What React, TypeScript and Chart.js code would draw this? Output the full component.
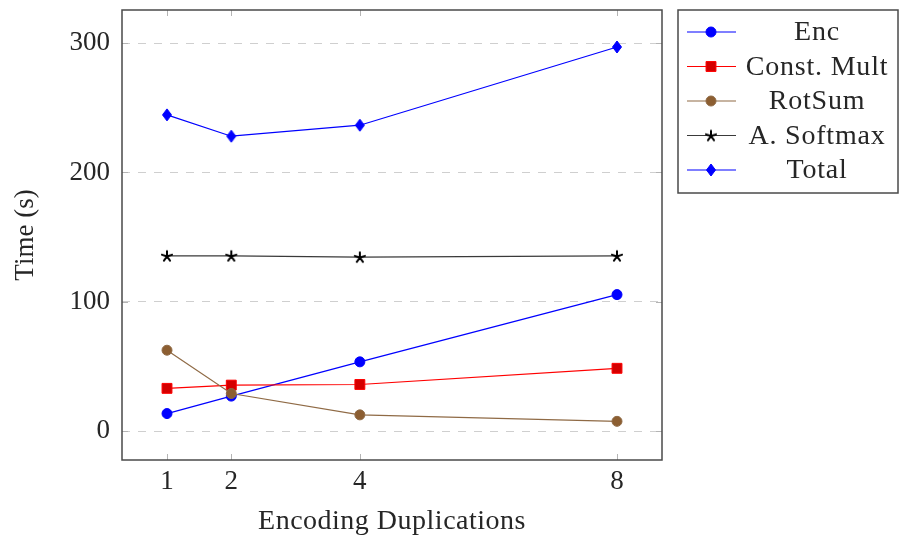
import { useEffect, useRef } from "react";
import { Chart, registerables } from "chart.js";
import { drawPoint } from "chart.js/helpers";

Chart.register(...registerables);

const duplications = [1, 2, 4, 8];
const encTimes = [13.5, 27, 53.5, 105.5];
const constMultTimes = [33, 35.5, 36, 48.5];
const rotSumTimes = [62.5, 29, 12.5, 7.5];
const softmaxTimes = [135.5, 135.5, 134.5, 135.5];
const totalTimes = [244.5, 228, 236.5, 297];
const yTickValues = [0, 100, 200, 300];
const seriesNames = ["Enc", "Const. Mult", "RotSum", "A. Softmax", "Total"];
const xTitle = "Encoding Duplications";
const yTitle = "Time (s)";

const FONT = "'Liberation Serif', 'Times New Roman', serif";
const FONT_SIZE = 27;
const TEXT = "#262626";

function makeStar(): HTMLCanvasElement {
  const c = document.createElement("canvas");
  c.width = 14;
  c.height = 14;
  const g = c.getContext("2d")!;
  g.strokeStyle = "#000";
  g.lineWidth = 2;
  g.lineCap = "round";
  g.beginPath();
  for (let k = 0; k < 5; k++) {
    const a = -Math.PI / 2 + (k * 2 * Math.PI) / 5;
    g.moveTo(7, 7.5);
    g.lineTo(7 + 5.3 * Math.cos(a), 7.5 + 5.3 * Math.sin(a));
  }
  g.stroke();
  return c;
}

function makeDiamond(): HTMLCanvasElement {
  const c = document.createElement("canvas");
  c.width = 12;
  c.height = 14;
  const g = c.getContext("2d")!;
  g.fillStyle = "#0000ff";
  g.strokeStyle = "#0000ff";
  g.lineWidth = 1;
  g.beginPath();
  g.moveTo(6, 1);
  g.lineTo(10.5, 7);
  g.lineTo(6, 13);
  g.lineTo(1.5, 7);
  g.closePath();
  g.fill();
  g.stroke();
  return c;
}

type Style = {
  line: string;
  fill: string;
  pointStyle: any;
  radius: number;
};

export default function App() {
  const canvasRef = useRef<HTMLCanvasElement | null>(null);

  useEffect(() => {
    document.body.style.margin = "0";
    const canvas = canvasRef.current;
    if (!canvas) return;

    const styles: Style[] = [
      { line: "#0000ff", fill: "#0000ff", pointStyle: "circle", radius: 5 },
      { line: "#ff0000", fill: "#d40000", pointStyle: "rect", radius: 7 },
      { line: "#8f6a45", fill: "#8c5e31", pointStyle: "circle", radius: 5 },
      { line: "#3a3a3a", fill: "#000000", pointStyle: makeStar(), radius: 5 },
      { line: "#0000ff", fill: "#0000ff", pointStyle: makeDiamond(), radius: 5 },
    ];
    const seriesValues = [encTimes, constMultTimes, rotSumTimes, softmaxTimes, totalTimes];

    const framePlugin = {
      id: "frameAndLegend",
      afterDraw(chart: any) {
        const { ctx, chartArea } = chart;
        const xs = chart.scales.x;
        const ys = chart.scales.y;
        ctx.save();
        ctx.strokeStyle = "#b4b4b4";
        ctx.lineWidth = 1;
        ctx.setLineDash([]);
        for (const v of duplications) {
          const px = Math.round(xs.getPixelForValue(v)) + 0.5;
          ctx.beginPath();
          ctx.moveTo(px, chartArea.bottom);
          ctx.lineTo(px, chartArea.bottom - 6);
          ctx.moveTo(px, chartArea.top);
          ctx.lineTo(px, chartArea.top + 6);
          ctx.stroke();
        }
        for (const v of yTickValues) {
          const py = Math.round(ys.getPixelForValue(v)) + 0.5;
          ctx.beginPath();
          ctx.moveTo(chartArea.left, py);
          ctx.lineTo(chartArea.left + 6, py);
          ctx.moveTo(chartArea.right, py);
          ctx.lineTo(chartArea.right - 6, py);
          ctx.stroke();
        }
        ctx.strokeStyle = "#4a4a4a";
        ctx.lineWidth = 1.5;
        ctx.strokeRect(
          chartArea.left,
          chartArea.top,
          chartArea.right - chartArea.left,
          chartArea.bottom - chartArea.top
        );

        // axis titles
        ctx.fillStyle = TEXT;
        ctx.textAlign = "center";
        ctx.textBaseline = "middle";
        (ctx as any).letterSpacing = "0.5px";
        ctx.font = `28px ${FONT}`;
        ctx.fillText(xTitle, (chartArea.left + chartArea.right) / 2, 522);
        (ctx as any).letterSpacing = "0px";
        ctx.save();
        ctx.translate(26, (chartArea.top + chartArea.bottom) / 2);
        ctx.rotate(-Math.PI / 2);
        ctx.font = `${FONT_SIZE}px ${FONT}`;
        ctx.fillText(yTitle, 0, 0);
        ctx.restore();

        // legend
        const lx = 678;
        const ly = chartArea.top;
        const lw = 220;
        const lh = 183;
        ctx.fillStyle = "#ffffff";
        ctx.fillRect(lx, ly, lw, lh);
        ctx.strokeStyle = "#4a4a4a";
        ctx.lineWidth = 1.5;
        ctx.strokeRect(lx, ly, lw, lh);
        ctx.font = `28px ${FONT}`;
        (ctx as any).letterSpacing = "0.8px";
        ctx.textAlign = "center";
        ctx.textBaseline = "middle";
        seriesNames.forEach((name, i) => {
          const s = styles[i];
          const cy = ly + 22 + i * 34.5;
          ctx.strokeStyle = s.line;
          ctx.lineWidth = 1.2;
          ctx.beginPath();
          ctx.moveTo(lx + 9, cy);
          ctx.lineTo(lx + 58, cy);
          ctx.stroke();
          ctx.save();
          ctx.fillStyle = s.fill;
          ctx.strokeStyle = s.line;
          ctx.lineWidth = 1;
          drawPoint(
            ctx,
            { pointStyle: s.pointStyle, radius: s.radius, rotation: 0, borderWidth: 1 } as any,
            lx + 33,
            cy
          );
          ctx.restore();
          ctx.fillStyle = TEXT;
          ctx.fillText(name, lx + 139, cy + 1);
        });
        (ctx as any).letterSpacing = "0px";
        ctx.restore();
      },
    };

    const datasets = seriesNames.map((name, i) => ({
      label: name,
      data: duplications.map((d, j) => ({ x: d, y: seriesValues[i][j] })),
      borderColor: styles[i].line,
      backgroundColor: styles[i].fill,
      pointBackgroundColor: styles[i].fill,
      pointBorderColor: styles[i].line,
      pointBorderWidth: 1,
      pointStyle: styles[i].pointStyle,
      pointRadius: styles[i].radius,
      borderWidth: 1.2,
      tension: 0,
      fill: false,
      order: seriesNames.length - i,
    }));

    const chart = new Chart(canvas, {
      type: "line",
      data: { datasets },
      options: {
        animation: false,
        responsive: true,
        maintainAspectRatio: false,
        layout: { padding: { top: 10, right: 238, left: 0, bottom: 0 } },
        plugins: {
          legend: { display: false },
          tooltip: { enabled: false },
        },
        scales: {
          x: {
            type: "linear",
            min: 0.3,
            max: 8.7,
            afterBuildTicks: (scale: any) => {
              scale.ticks = duplications.map((v) => ({ value: v }));
            },
            afterFit: (scale: any) => {
              scale.height = 81;
              scale.paddingLeft = 0;
              scale.paddingRight = 0;
            },
            grid: { display: false, drawTicks: false },
            border: { display: false },
            ticks: {
              padding: 6,
              color: TEXT,
              font: { family: FONT, size: FONT_SIZE },
              callback: (v: any) => String(v),
            },
            title: { display: false, text: xTitle },
          },
          y: {
            type: "linear",
            min: -22.4,
            max: 325.6,
            afterBuildTicks: (scale: any) => {
              scale.ticks = yTickValues.map((v) => ({ value: v }));
            },
            afterFit: (scale: any) => {
              scale.width = 122;
              scale.paddingTop = 0;
              scale.paddingBottom = 0;
            },
            grid: { color: "#cfcfcf", lineWidth: 1, drawTicks: false },
            border: { display: false, dash: [8, 8] },
            ticks: {
              padding: 12,
              color: TEXT,
              font: { family: FONT, size: FONT_SIZE },
              callback: (v: any) => String(v),
            },
            title: { display: false, text: yTitle },
          },
        },
      },
      plugins: [framePlugin],
    });
    return () => chart.destroy();
  }, []);

  return (
    <div style={{ position: "fixed", left: 0, top: 0, width: 900, height: 541 }}>
      <canvas ref={canvasRef} />
    </div>
  );
}
